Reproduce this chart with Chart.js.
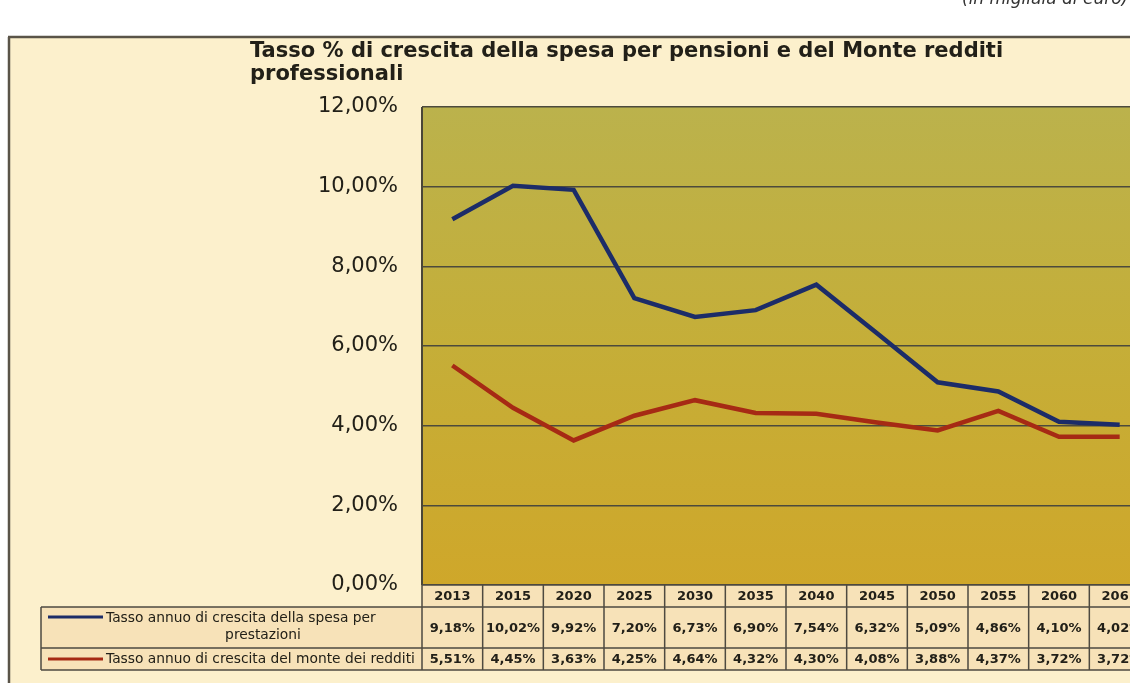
<!DOCTYPE html>
<html>
<head>
<meta charset="utf-8">
<script src="https://cdn.jsdelivr.net/npm/chart.js@4"></script>
<style>
  html, body { margin: 0; padding: 0; overflow: hidden; background: #fff; }
  #wrap { width: 1150px; height: 683px; }
</style>
</head>
<body>
<div id="wrap"><canvas id="chart" width="1150" height="683"></canvas></div>
<script>
const years = ['2013', '2015', '2020', '2025', '2030', '2035', '2040', '2045', '2050', '2055', '2060', '2061'];
const spesa = [9.18, 10.02, 9.92, 7.20, 6.73, 6.90, 7.54, 6.32, 5.09, 4.86, 4.10, 4.02];
const redditi = [5.51, 4.45, 3.63, 4.25, 4.64, 4.32, 4.30, 4.08, 3.88, 4.37, 3.72, 3.72];
const seriesNames = [
  ['Tasso annuo di crescita della spesa per', 'prestazioni'],
  ['Tasso annuo di crescita del monte dei redditi']
];
const titleLines = ['Tasso % di crescita della spesa per pensioni e del Monte redditi', 'professionali'];

const BLUE = '#1c2c68';
const RED = '#a62a14';
const INK = '#222018';

function pct(v) {
  return v.toFixed(2).replace('.', ',') + '%';
}

const paper = {
  id: 'paper',
  beforeDraw(chart) {
    const ctx = chart.ctx;
    const a = chart.chartArea;
    ctx.save();
    ctx.fillStyle = '#ffffff';
    ctx.fillRect(0, 0, chart.width, chart.height);
    ctx.fillStyle = '#fcf0cc';
    ctx.fillRect(9, 38, chart.width, chart.height);
    // top rule and left border
    ctx.strokeStyle = '#5a5448';
    ctx.lineWidth = 2.5;
    ctx.beginPath();
    ctx.moveTo(8, 37); ctx.lineTo(chart.width, 37);
    ctx.moveTo(9, 37); ctx.lineTo(9, chart.height);
    ctx.stroke();
    // cut-off note at the top right
    ctx.fillStyle = '#333';
    ctx.font = 'italic 17px "DejaVu Sans"';
    ctx.textBaseline = 'alphabetic';
    ctx.fillText('(in migliaia di euro)', 962, 4);
    // plot area
    const g = ctx.createLinearGradient(0, a.top, 0, a.bottom);
    g.addColorStop(0, '#bbb24c');
    g.addColorStop(0.5, '#c5ae38');
    g.addColorStop(1, '#cfa72a');
    ctx.fillStyle = g;
    ctx.fillRect(a.left, a.top, a.right - a.left, a.bottom - a.top);
    ctx.restore();
  },
  afterDraw(chart) {
    const ctx = chart.ctx;
    const a = chart.chartArea;
    const x = chart.scales.x;
    ctx.save();
    // title
    ctx.fillStyle = INK;
    ctx.font = 'bold 21px "DejaVu Sans"';
    ctx.textAlign = 'left';
    ctx.textBaseline = 'alphabetic';
    ctx.fillText(titleLines[0], 250, 57);
    ctx.fillText(titleLines[1], 250, 80);

    // plot left border
    ctx.strokeStyle = '#4a4638';
    ctx.lineWidth = 2;
    ctx.beginPath();
    ctx.moveTo(a.left, a.top); ctx.lineTo(a.left, a.bottom);
    ctx.stroke();

    // data table
    const colW = x.getPixelForValue(1) - x.getPixelForValue(0);
    const rows = [a.bottom, 607, 648, 670];
    const legL = 41;
    ctx.fillStyle = '#f7e2b8';
    ctx.fillRect(a.left, rows[0], chart.width - a.left, rows[3] - rows[0]);
    ctx.fillRect(legL, rows[1], a.left - legL, rows[3] - rows[1]);

    ctx.strokeStyle = '#4e4a40';
    ctx.lineWidth = 1.5;
    ctx.beginPath();
    ctx.moveTo(a.left, rows[0]); ctx.lineTo(chart.width, rows[0]);
    ctx.moveTo(legL, rows[1]); ctx.lineTo(chart.width, rows[1]);
    ctx.moveTo(legL, rows[2]); ctx.lineTo(chart.width, rows[2]);
    ctx.moveTo(legL, rows[3]); ctx.lineTo(chart.width, rows[3]);
    ctx.moveTo(legL, rows[1]); ctx.lineTo(legL, rows[3]);
    for (let i = 0; i <= years.length; i++) {
      const xx = x.getPixelForValue(0) - colW / 2 + i * colW;
      ctx.moveTo(xx, rows[0]); ctx.lineTo(xx, rows[3]);
    }
    ctx.stroke();

    ctx.fillStyle = INK;
    ctx.textAlign = 'center';
    ctx.textBaseline = 'middle';
    ctx.font = 'bold 13px "DejaVu Sans"';
    years.forEach((y, i) => {
      const cx = x.getPixelForValue(i);
      ctx.fillText(y, cx, (rows[0] + rows[1]) / 2 + 1);
      ctx.fillText(pct(spesa[i]), cx, (rows[1] + rows[2]) / 2 + 1);
      ctx.fillText(pct(redditi[i]), cx, (rows[2] + rows[3]) / 2 + 1);
    });

    // legend keys in the table
    ctx.lineWidth = 3;
    ctx.strokeStyle = BLUE;
    ctx.beginPath(); ctx.moveTo(48, 617); ctx.lineTo(103, 617); ctx.stroke();
    ctx.strokeStyle = RED;
    ctx.beginPath(); ctx.moveTo(48, 659); ctx.lineTo(103, 659); ctx.stroke();
    ctx.font = '13.8px "DejaVu Sans"';
    ctx.textAlign = 'left';
    ctx.fillText(seriesNames[0][0], 106, 618);
    ctx.textAlign = 'center';
    ctx.fillText(seriesNames[0][1], 263, 635);
    ctx.textAlign = 'left';
    ctx.fillText(seriesNames[1][0], 106, 659);
    ctx.restore();
  }
};

new Chart(document.getElementById('chart'), {
  type: 'line',
  data: {
    labels: years,
    datasets: [
      { data: spesa, borderColor: BLUE, borderWidth: 4.5, pointRadius: 0, tension: 0 },
      { data: redditi, borderColor: RED, borderWidth: 4.5, pointRadius: 0, tension: 0 }
    ]
  },
  options: {
    responsive: false,
    animation: false,
    layout: { padding: { left: 312, top: 107, bottom: 98, right: 0 } },
    plugins: { legend: { display: false }, title: { display: false }, tooltip: { enabled: false } },
    scales: {
      x: { type: 'category', offset: true, display: false },
      y: {
        min: 0, max: 12,
        afterFit: (s) => { s.width = 110; },
        ticks: {
          stepSize: 2,
          padding: 24,
          color: INK,
          font: { family: 'DejaVu Sans', size: 21 },
          callback: (v) => pct(v)
        },
        grid: { color: '#4c4a3c', lineWidth: 1.5, drawTicks: false },
        border: { display: false }
      }
    }
  },
  plugins: [paper]
});
</script>
</body>
</html>
